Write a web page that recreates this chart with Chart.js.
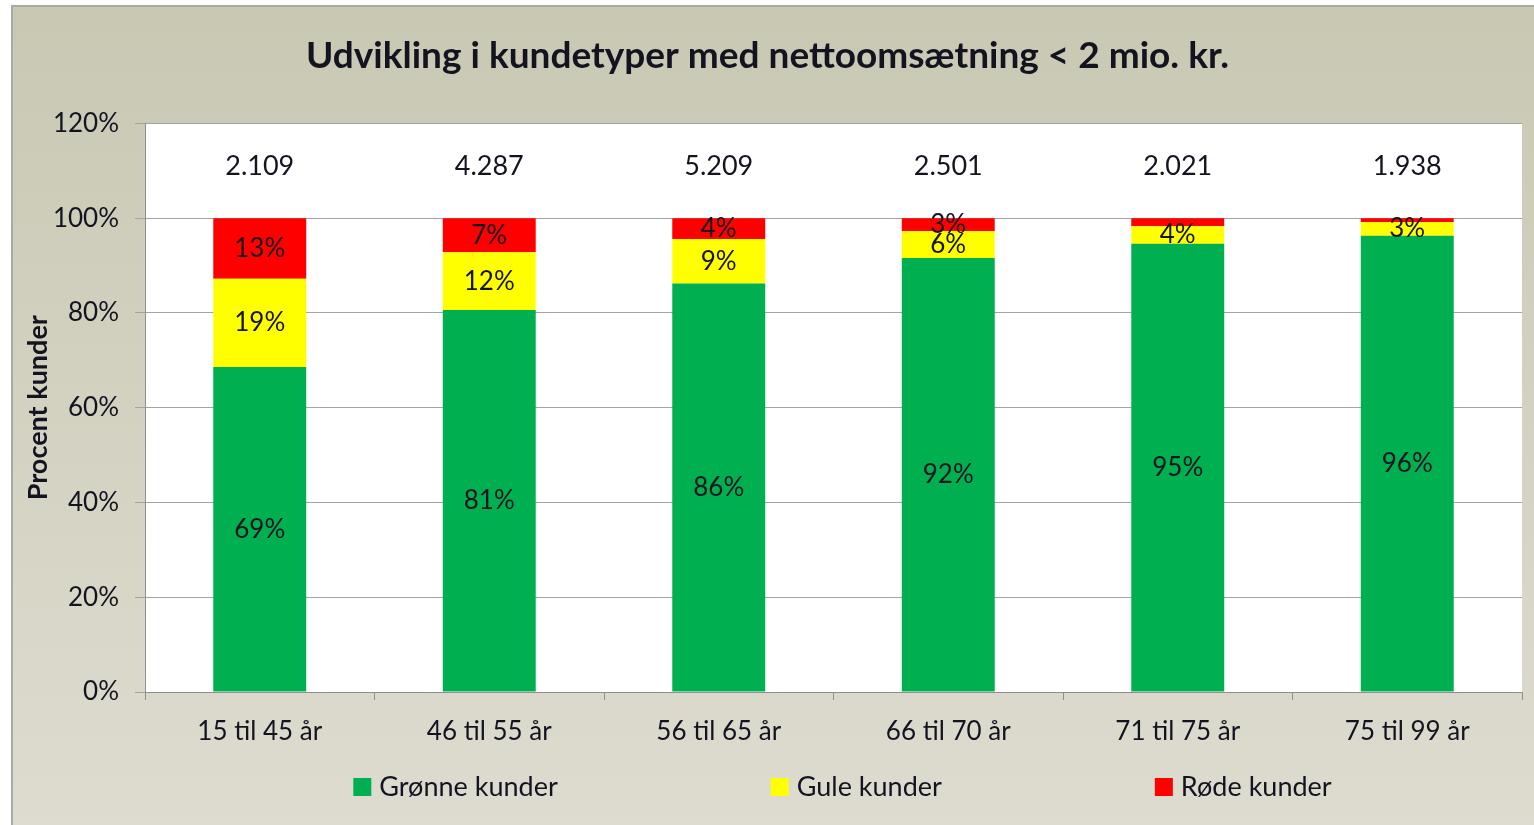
<!DOCTYPE html>
<html lang="da">
<head>
<meta charset="UTF-8">
<title>Udvikling i kundetyper</title>
<script src="https://cdn.jsdelivr.net/npm/chart.js@4.4.1/dist/chart.umd.min.js"></script>
<style>
  html, body { margin: 0; padding: 0; background: #fff; overflow: hidden; }
  #wrap { position: absolute; left: 13px; top: 7px; width: 1544px; height: 830px; outline: 2px solid #a9a9a9; }
</style>
</head>
<body>
<div id="wrap"><canvas id="chart" width="1544" height="830"></canvas></div>
<script>
// data
const categories = ['15 til 45 år', '46 til 55 år', '56 til 65 år', '66 til 70 år', '71 til 75 år', '75 til 99 år'];
const greenValues = [68.6, 80.6, 86.2, 91.6, 94.6, 96.3];
const yellowValues = [18.6, 12.2, 9.4, 5.7, 3.7, 2.9];
const redValues = [12.8, 7.2, 4.4, 2.7, 1.7, 0.8];
const totalCustomers = [2109, 4287, 5209, 2501, 2021, 1938];
const seriesNames = ['Grønne kunder', 'Gule kunder', 'Røde kunder'];
const seriesColors = ['#00b050', '#ffff00', '#ff0000'];

const FONT = 'Lato, "Open Sans", sans-serif';
const TEXT = '#141420';

// thousands with a dot, as in Danish
function fmtTotal(n) {
    return String(n).replace(/\B(?=(\d{3})+(?!\d))/g, '.');
}

// beige background + white plot area
const backgroundPlugin = {
    id: 'bg',
    beforeDraw(chart) {
        const { ctx, width, height, chartArea: a } = chart;
        const g = ctx.createLinearGradient(0, 0, 0, height);
        g.addColorStop(0, '#c9c8b3');
        g.addColorStop(1, '#dedcd0');
        ctx.save();
        ctx.fillStyle = g;
        ctx.fillRect(0, 0, width, height);
        ctx.fillStyle = '#fff';
        ctx.fillRect(a.left, a.top, a.right - a.left, a.bottom - a.top);
        ctx.restore();
    }
};

// percent labels inside the segments and totals above the bars
const labelPlugin = {
    id: 'labels',
    afterDatasetsDraw(chart) {
        const { ctx } = chart;
        ctx.save();
        ctx.fillStyle = TEXT;
        ctx.textAlign = 'center';
        ctx.textBaseline = 'middle';
        ctx.font = '26px ' + FONT;
        chart.data.datasets.forEach((ds, di) => {
            const meta = chart.getDatasetMeta(di);
            meta.data.forEach((bar, i) => {
                const v = ds.data[i];
                if (v < 2) return;
                ctx.fillText(Math.round(v) + '%', bar.x, (bar.y + bar.base) / 2);
            });
        });
        ctx.font = '27px ' + FONT;
        const y = chart.scales.y.getPixelForValue(111);
        chart.getDatasetMeta(0).data.forEach((bar, i) => {
            ctx.fillText(fmtTotal(totalCustomers[i]), bar.x, y);
        });
        ctx.restore();
    }
};

// legend spread under the plot like the Excel one
const legendPlugin = {
    id: 'wideLegend',
    afterDraw(chart) {
        const { ctx, chartArea: a } = chart;
        const box = 18, gapText = 8, gapItem = 213;
        ctx.save();
        ctx.font = '27px ' + FONT;
        ctx.textBaseline = 'middle';
        const widths = chart.data.datasets.map(ds => box + gapText + ctx.measureText(ds.label).width);
        const total = widths.reduce((s, w) => s + w, 0) + gapItem * (widths.length - 1);
        let x = (a.left + a.right) / 2 + 9 - total / 2;
        const y = a.bottom + 95;
        chart.data.datasets.forEach((ds, i) => {
            ctx.fillStyle = ds.backgroundColor;
            ctx.fillRect(x, y - box / 2, box, box);
            ctx.fillStyle = TEXT;
            ctx.fillText(ds.label, x + box + gapText, y);
            x += widths[i] + gapItem;
        });
        ctx.restore();
    }
};

const seriesData = [greenValues, yellowValues, redValues];

const ctx = document.getElementById('chart').getContext('2d');
const chart = new Chart(ctx, {
    type: 'bar',
    data: {
        labels: categories,
        datasets: seriesData.map((vals, i) => ({
            label: seriesNames[i],
            data: vals,
            backgroundColor: seriesColors[i],
            borderWidth: 0,
            categoryPercentage: 1,
            barPercentage: 0.405
        }))
    },
    options: {
        responsive: false,
        animation: false,
        layout: { padding: { left: 0, right: 35, top: 0, bottom: 0 } },
        plugins: {
            legend: { display: false },
            tooltip: { enabled: false },
            title: {
                display: true,
                text: 'Udvikling i kundetyper med nettoomsætning < 2 mio. kr.',
                color: TEXT,
                font: { family: FONT, size: 37, weight: 'bold' },
                padding: { top: 27, bottom: 45 }
            }
        },
        scales: {
            x: {
                stacked: true,
                grid: { drawOnChartArea: false, drawTicks: true, tickLength: 8, color: '#8f8f8f', offset: true },
                border: { color: '#8f8f8f' },
                ticks: { color: TEXT, font: { family: FONT, size: 26 }, padding: 16 },
                afterFit(s) { s.height = 145; }
            },
            y: {
                stacked: true,
                min: 0,
                max: 120,
                grid: { color: '#a3a3a3', tickLength: 10 },
                border: { color: '#8f8f8f' },
                ticks: {
                    stepSize: 20,
                    color: TEXT,
                    font: { family: FONT, size: 26 },
                    padding: 16,
                    callback: v => v + '%'
                },
                title: {
                    display: true,
                    text: 'Procent kunder',
                    color: TEXT,
                    font: { family: FONT, size: 27, weight: 'bold' },
                    padding: { top: 9, bottom: 0 }
                },
                afterFit(s) { s.width = 132; }
            }
        }
    },
    plugins: [backgroundPlugin, labelPlugin, legendPlugin]
});
</script>
</body>
</html>
